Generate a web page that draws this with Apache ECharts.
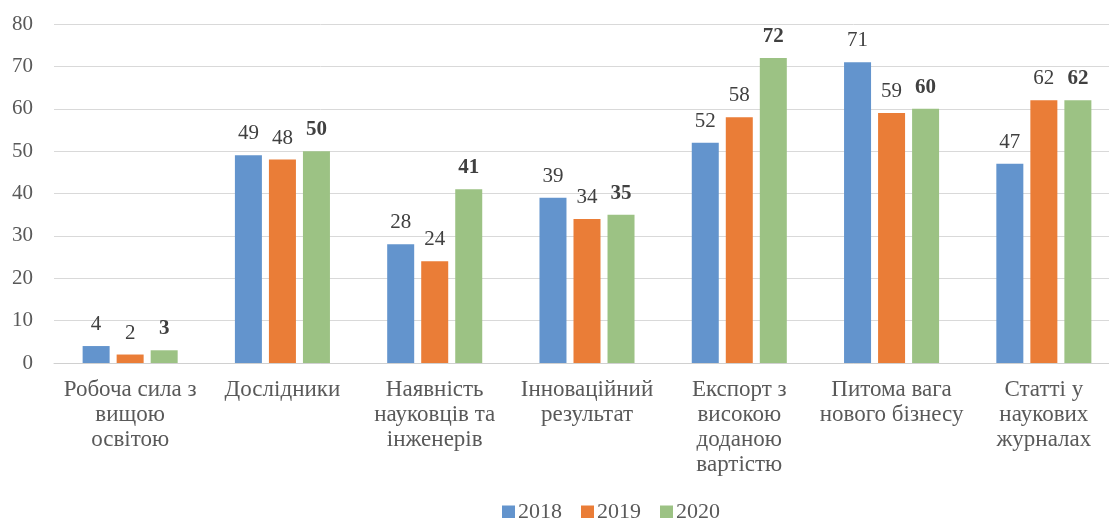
<!DOCTYPE html>
<html>
<head>
<meta charset="utf-8">
<script src="https://cdn.jsdelivr.net/npm/echarts@6/dist/echarts.min.js"></script>
<style>html,body{margin:0;padding:0;background:#fff;overflow:hidden;}#c{width:1125px;height:518px;}</style>
</head>
<body>
<div id="c"></div>
<script>
const categories = [
  "Робоча сила з\nвищою\nосвітою",
  "Дослідники",
  "Наявність\nнауковців та\nінженерів",
  "Інноваційний\nрезультат",
  "Експорт з\nвисокою\nдоданою\nвартістю",
  "Питома вага\nнового бізнесу",
  "Статті у\nнаукових\nжурналах"
];
const seriesNames = ["2018", "2019", "2020"];
const values2018 = [4, 49, 28, 39, 52, 71, 47];
const values2019 = [2, 48, 24, 34, 58, 59, 62];
const values2020 = [3, 50, 41, 35, 72, 60, 62];
const yTicks = [0, 10, 20, 30, 40, 50, 60, 70, 80];

const colors = ["#6394cd", "#ea7d37", "#9cc284"];
const FONT = "Liberation Serif";

function mk(name, data, color, bold) {
  return {
    name: name,
    type: "bar",
    data: data,
    barWidth: 27,
    barGap: "26%",
    itemStyle: { color: color },
    label: {
      show: true,
      position: "top",
      distance: 11,
      fontFamily: FONT,
      fontSize: 21,
      fontWeight: bold ? "bold" : "normal",
      color: "#404040"
    }
  };
}

const chart = echarts.init(document.getElementById("c"), null, { renderer: "canvas" });
chart.setOption({
  animation: false,
  color: colors,
  textStyle: { fontFamily: FONT },
  grid: { left: 54, top: 24, width: 1066, height: 339, containLabel: false },
  legend: {
    data: seriesNames,
    left: 497,
    top: 496,
    itemWidth: 13,
    itemHeight: 13,
    itemGap: 19,
    icon: "rect",
    textStyle: { fontFamily: FONT, fontSize: 22, color: "#595959", padding: [0, 0, 0, -2] }
  },
  xAxis: {
    type: "category",
    data: categories,
    axisTick: { show: false },
    axisLine: { show: true, lineStyle: { color: "#d0d0d0", width: 1 } },
    axisLabel: {
      interval: 0,
      margin: 14,
      fontFamily: FONT,
      fontSize: 23,
      lineHeight: 25,
      color: "#595959"
    }
  },
  yAxis: {
    type: "value",
    min: yTicks[0],
    max: yTicks[yTicks.length - 1],
    interval: 10,
    axisLine: { show: false },
    axisTick: { show: false },
    splitLine: { lineStyle: { color: "#d9d9d9", width: 1 } },
    axisLabel: {
      margin: 21,
      fontFamily: FONT,
      fontSize: 21,
      color: "#595959",
      formatter: function (v) { return yTicks.indexOf(v) >= 0 ? String(v) : ""; }
    }
  },
  series: [
    mk(seriesNames[0], values2018, colors[0], false),
    mk(seriesNames[1], values2019, colors[1], false),
    mk(seriesNames[2], values2020, colors[2], true)
  ]
});
</script>
</body>
</html>
